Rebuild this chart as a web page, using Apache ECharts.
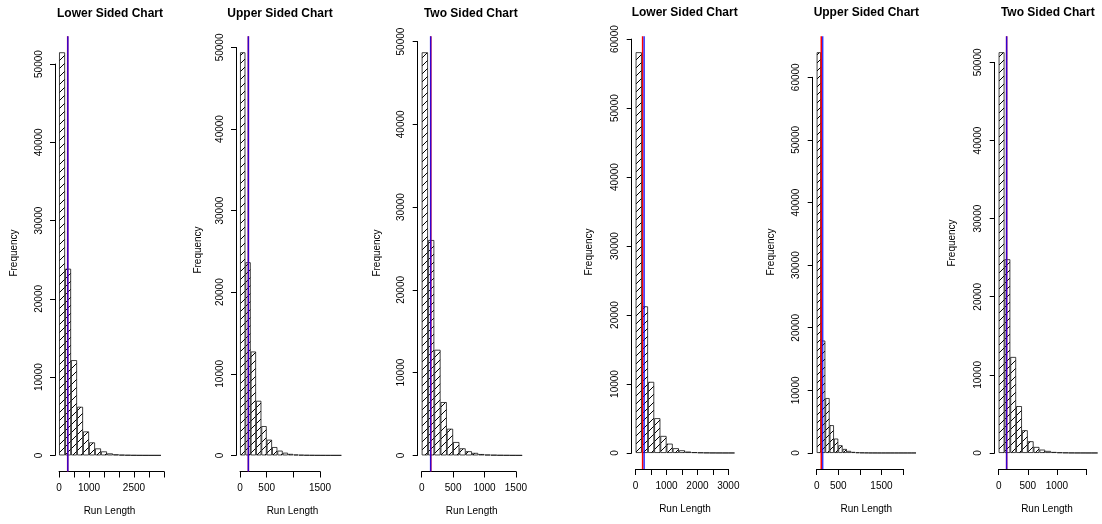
<!DOCTYPE html>
<html>
<head>
<meta charset="utf-8">
<script src="https://cdn.jsdelivr.net/npm/echarts@6/dist/echarts.min.js"></script>
<style>
  html, body { margin: 0; padding: 0; background: #fff; }
  #chart { width: 1102px; height: 524px; }
</style>
</head>
<body>
<div id="chart"></div>
<script>
// Run-length histograms for six control charts
const panelTitles = ['Lower Sided Chart', 'Upper Sided Chart', 'Two Sided Chart',
                     'Lower Sided Chart', 'Upper Sided Chart', 'Two Sided Chart'];
const binWidths = [200, 100, 100, 200, 100, 100];

// bin counts, first bin starts at 0
const countsLower1 = [51500, 23850, 12170, 6210, 3060, 1660, 890, 510, 255, 130, 70, 40, 20, 12, 6, 3, 2];
const countsUpper1 = [49400, 23670, 12730, 6690, 3590, 1920, 1020, 580, 330, 180, 100, 55, 30, 17, 9, 5, 3, 2, 1];
const countsTwo1   = [48700, 26020, 12760, 6440, 3220, 1610, 850, 500, 300, 160, 90, 50, 25, 14, 7, 3];
const countsLower2 = [58100, 21260, 10310, 5040, 2470, 1350, 690, 390, 200, 110, 60, 32, 17, 9, 5, 2];
const countsUpper2 = [64000, 17950, 8770, 4440, 2300, 1230, 640, 330, 170, 90, 50, 28, 15, 9, 5, 3, 2, 1, 1, 1, 1, 1, 1];
const countsTwo2   = [51300, 24800, 12290, 6000, 2910, 1500, 770, 430, 260, 130, 70, 40, 20, 11, 6, 3, 2];

// reference run lengths marked by vertical lines
const redLimits  = [287, 156, 145, 225, 106, 137];
const blueLimits = [292, 156, 142, 275, 139, 137];

// axis ticks and the tick labels that are printed
const xTicks1 = [0, 500, 1000, 1500, 2000, 2500, 3000, 3500];
const xTicks2 = [0, 500, 1000, 1500];
const xTicks3 = [0, 500, 1000, 1500];
const xTicks4 = [0, 500, 1000, 1500, 2000, 2500, 3000];
const xTicks5 = [0, 500, 1000, 1500, 2000];
const xTicks6 = [0, 500, 1000, 1500];
const xLabels1 = [0, 1000, 2500];
const xLabels2 = [0, 500, 1500];
const xLabels3 = [0, 500, 1000, 1500];
const xLabels4 = [0, 1000, 2000, 3000];
const xLabels5 = [0, 500, 1500];
const xLabels6 = [0, 500, 1000];
const yTicks50k = [0, 10000, 20000, 30000, 40000, 50000];
const yTicks60k = [0, 10000, 20000, 30000, 40000, 50000, 60000];

// plot regions (pixels) and text anchors
const plotLeft   = [55, 236, 417.7, 631.7, 812.7, 994.7];
const plotRight  = [165, 345.4, 526.2, 738.5, 920, 1101.6];
const plotTop    = [36.2, 36.2, 36.2, 36.2, 36.2, 36.2];
const plotBottom = [471.5, 471.5, 471.5, 469, 469, 469];
const titleX = [110, 280, 470.8, 684.7, 866.3, 1047.8];
const titleY = [13.5, 13.5, 13.5, 12.5, 12.5, 12.5];
const xNameX = [109.5, 292.5, 471.7, 685, 866.3, 1047];
const xNameY = [511, 511, 511, 509.5, 509.5, 509.5];
const yNameX = [14, 198.3, 377, 589.7, 771.7, 952];
const yNameY = [253, 250, 253, 252, 252, 243];

const panels = [
  { counts: countsLower1, xTicks: xTicks1, xLabels: xLabels1, yTicks: yTicks50k },
  { counts: countsUpper1, xTicks: xTicks2, xLabels: xLabels2, yTicks: yTicks50k },
  { counts: countsTwo1,   xTicks: xTicks3, xLabels: xLabels3, yTicks: yTicks50k },
  { counts: countsLower2, xTicks: xTicks4, xLabels: xLabels4, yTicks: yTicks60k },
  { counts: countsUpper2, xTicks: xTicks5, xLabels: xLabels5, yTicks: yTicks60k },
  { counts: countsTwo2,   xTicks: xTicks6, xLabels: xLabels6, yTicks: yTicks50k }
];

const FONT = '"Liberation Sans", Arial, Helvetica, sans-serif';

// white tile crossed by 45-degree shading lines, repeated inside the bars
function makeHatchTile(step) {
  const c = document.createElement('canvas');
  c.width = step; c.height = step;
  const ctx = c.getContext('2d');
  ctx.fillStyle = '#fff';
  ctx.fillRect(0, 0, step, step);
  ctx.strokeStyle = '#000';
  ctx.lineWidth = 1;
  ctx.beginPath();
  for (let k = -1; k <= 1; k++) {
    const s = step + k * step;
    ctx.moveTo(-1, s + 1);
    ctx.lineTo(s + 1, -1);
  }
  ctx.stroke();
  return c;
}
const hatchFill = { image: makeHatchTile(8), repeat: 'repeat' };

const black = { color: '#000', width: 1 };
const plain = (v) => String(v);

const grid = [], xAxis = [], yAxis = [], series = [], graphic = [];

panels.forEach((p, i) => {
  const w = binWidths[i];
  const L = plotLeft[i], R = plotRight[i], T = plotTop[i], B = plotBottom[i];
  const maxCount = Math.max(...p.counts);
  const xRange = p.counts.length * w;
  // plot area spans the data range plus 4% on each side
  const kx = (R - L) / (1.08 * xRange);
  const ky = (B - T) / (1.08 * maxCount);
  const x0 = L + 0.04 * xRange * kx;
  const y0 = B - 0.04 * maxCount * ky;
  const xMax = p.xTicks[p.xTicks.length - 1];
  const yMax = p.yTicks[p.yTicks.length - 1];

  grid.push({ left: x0, top: y0 - yMax * ky, width: xMax * kx, height: yMax * ky });

  xAxis.push({
    type: 'value', gridIndex: i, min: 0, max: xMax, position: 'bottom',
    offset: B - y0,
    axisLine: { show: true, onZero: false, lineStyle: black },
    axisTick: { show: true, length: 6, customValues: p.xTicks, lineStyle: black },
    axisLabel: { customValues: p.xLabels, formatter: plain, margin: 12,
                 fontSize: 10, fontFamily: FONT, color: '#000' },
    splitLine: { show: false }
  });

  yAxis.push({
    type: 'value', gridIndex: i, min: 0, max: yMax, position: 'left',
    offset: x0 - L,
    axisLine: { show: true, onZero: false, lineStyle: black },
    axisTick: { show: true, length: 5, customValues: p.yTicks, lineStyle: black },
    axisLabel: { customValues: p.yTicks, formatter: plain, rotate: 90, margin: 11,
                 fontSize: 10, fontFamily: FONT, color: '#000' },
    splitLine: { show: false }
  });

  series.push({
    type: 'bar', xAxisIndex: i, yAxisIndex: i,
    data: p.counts.map((c, k) => [k * w + w / 2, c]),
    barWidth: '100%', clip: false, silent: true, animation: false,
    itemStyle: { color: hatchFill, borderColor: '#111', borderWidth: 0.8 }
  });

  const lo = -0.04 * maxCount, hi = 1.04 * maxCount;
  series.push({
    type: 'line', xAxisIndex: i, yAxisIndex: i, z: 4,
    data: [[redLimits[i], lo], [redLimits[i], hi]],
    clip: false, symbol: 'none', silent: true, animation: false,
    lineStyle: { color: '#ff0000', width: 1.5 }
  });
  series.push({
    type: 'line', xAxisIndex: i, yAxisIndex: i, z: 5,
    data: [[blueLimits[i], lo], [blueLimits[i], hi]],
    clip: false, symbol: 'none', silent: true, animation: false,
    lineStyle: { color: 'rgba(0,0,255,0.8)', width: 1.5 }
  });

  graphic.push({
    type: 'text', x: titleX[i], y: titleY[i], silent: true,
    style: { text: panelTitles[i], fontSize: 12, fontWeight: 'bold', fontFamily: FONT,
             fill: '#000', align: 'center', verticalAlign: 'middle',
             textAlign: 'center', textVerticalAlign: 'middle' }
  });
  graphic.push({
    type: 'text', x: xNameX[i], y: xNameY[i], silent: true,
    style: { text: 'Run Length', fontSize: 10, fontFamily: FONT, fill: '#000',
             align: 'center', verticalAlign: 'middle',
             textAlign: 'center', textVerticalAlign: 'middle' }
  });
  graphic.push({
    type: 'text', x: yNameX[i], y: yNameY[i], rotation: Math.PI / 2, silent: true,
    style: { text: 'Frequency', fontSize: 10, fontFamily: FONT, fill: '#000',
             align: 'center', verticalAlign: 'middle',
             textAlign: 'center', textVerticalAlign: 'middle' }
  });
});

const chart = echarts.init(document.getElementById('chart'), null, { renderer: 'canvas' });
chart.setOption({
  backgroundColor: '#fff',
  animation: false,
  grid, xAxis, yAxis, series, graphic
});
</script>
</body>
</html>
